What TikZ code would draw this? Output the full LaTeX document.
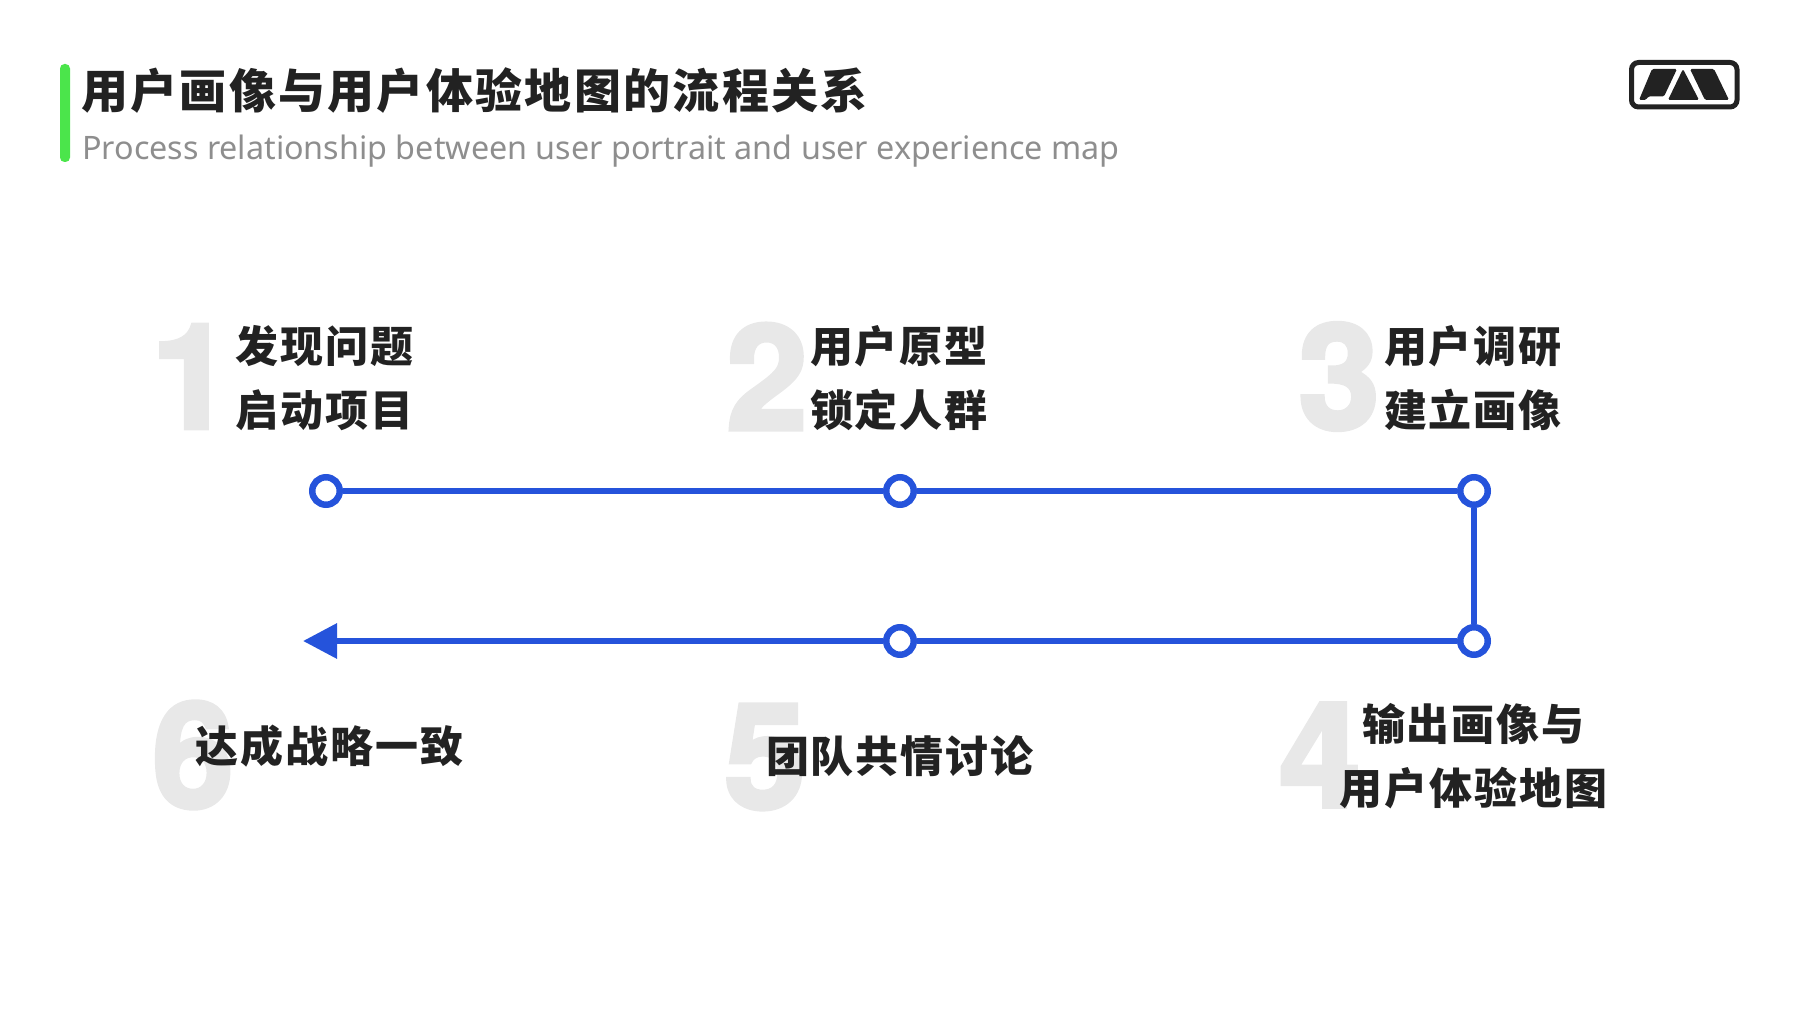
\documentclass[tikz,border=0pt]{standalone}
\usepackage{fontspec}
\usetikzlibrary{arrows.meta}
\newfontfamily\cjkhead[LetterSpace=4.6]{Noto Sans CJK SC Black}
\newfontfamily\titlefont[LetterSpace=4.9]{Noto Sans CJK SC Black}
\newfontfamily\subfont{Noto Sans}
\newfontfamily\numfont[BoldFeatures={FakeBold=3}]{TeX Gyre Heros}
\definecolor{lineblue}{HTML}{2553DB}
\definecolor{bargreen}{HTML}{4BE54B}
\definecolor{inkdark}{HTML}{222222}
\definecolor{subgray}{HTML}{8E8E8E}
\definecolor{numgray}{HTML}{E8E8E8}
\tikzset{
  point/.style={circle,draw=lineblue,fill=white,line width=6.5pt,minimum size=27.5pt,inner sep=0pt},
  link/.style={draw=lineblue,line width=6.3pt},
  bignum/.style={text=numgray,inner sep=0pt,font=\fontsize{146}{146}\selectfont\numfont\bfseries},
  steptext/.style={text=inkdark,inner sep=0pt,align=center,font=\fontsize{43}{64}\selectfont\cjkhead}
}
\begin{document}
\begin{tikzpicture}[x=1pt,y=-1pt]
      \useasboundingbox (0,0) rectangle (1800,1014);
      \fill[bargreen,rounded corners=4.5pt] (60,64) rectangle (70,162);
      \node[anchor=west,inner sep=0pt,text=inkdark,font=\fontsize{47}{47}\selectfont\titlefont] (title) at (81,91) {用户画像与用户体验地图的流程关系};
      \node[anchor=west,inner sep=0pt,text=subgray,font=\fontsize{32.3}{33}\selectfont\subfont] (subtitle) at (82,151) {Process relationship between user portrait and user experience map};
      % logo
      \draw[inkdark,line width=5pt,rounded corners=7pt] (1631.5,62.5) rectangle (1737,107);
      \fill[inkdark,rounded corners=1.5pt] (1652,69) -- (1677,69) -- (1664,96.5) -- (1648,96.5) -- (1646,100) -- (1639,100) -- cycle;
      \fill[inkdark,rounded corners=1.5pt] (1683,69) -- (1699,100) -- (1668,100) -- cycle;
      \fill[inkdark,rounded corners=1.5pt] (1690,69) -- (1714,69) -- (1729,100) -- (1705,100) -- cycle;
      % numbers
      \node[bignum] (num1) at (192,376.5) {1};
      \node[bignum] (num2) at (767,376.5) {2};
      \node[bignum] (num3) at (1339,376.5) {3};
      \node[bignum] (num4) at (1320,755) {4};
      \node[bignum] (num5) at (765,757) {5};
      \node[bignum] (num6) at (193,755) {6};
      % texts
      \node[steptext] (text1) at (324.5,378) {发现问题\\启动项目};
      \node[steptext] (text2) at (899,378) {用户原型\\锁定人群};
      \node[steptext] (text3) at (1473,378) {用户调研\\建立画像};
      \node[steptext] (text4) at (1473.5,756) {输出画像与\\用户体验地图};
      \node[steptext] (text5) at (900,756.5) {团队共情讨论};
      \node[steptext] (text6) at (329.5,746.5) {达成战略一致};
      % line
      \node[point] (p1) at (326,491) {};
      \node[point] (p2) at (900,491) {};
      \node[point] (p3) at (1474,491) {};
      \node[point] (p4) at (1474,641) {};
      \node[point] (p5) at (900,641) {};
      \coordinate (tip) at (303,641);
      \begin{scope}[link]
        \draw (p1) to (p2);
        \draw (p2) to (p3);
        \draw (p3) to (p4);
        \draw (p4) to (p5);
        \draw[-{Triangle[length=34pt,width=34pt]}] (p5) to (tip);
      \end{scope}
    \end{tikzpicture}
\end{document}
